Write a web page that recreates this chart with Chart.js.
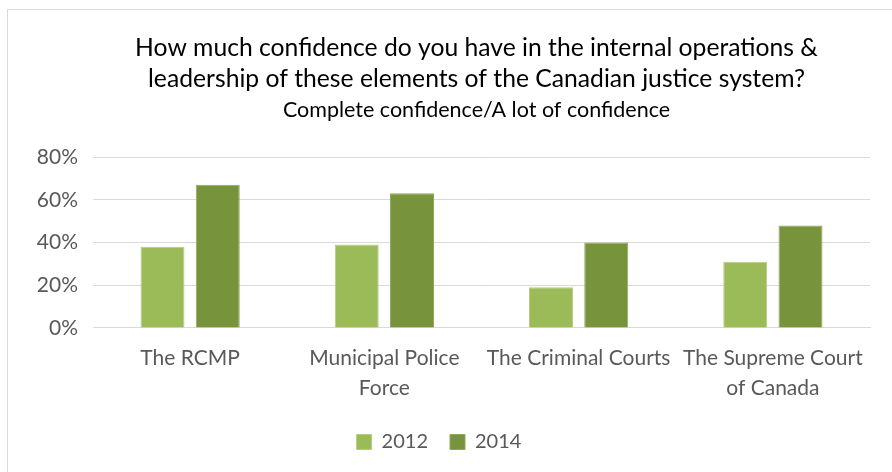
<!DOCTYPE html>
<html>
<head>
<meta charset="utf-8">
<script src="https://cdn.jsdelivr.net/npm/chart.js@4/dist/chart.umd.min.js"></script>
<style>
  html, body { margin: 0; padding: 0; background: #fff; }
  #wrap { position: relative; width: 892px; height: 472px; }
  #frame { position: absolute; left: 7px; top: 9px; width: 900px; height: 480px; border: 1px solid #d9d9d9; box-sizing: border-box; }
  canvas { position: absolute; left: 0; top: 0; }
</style>
</head>
<body>
<div id="wrap">
  <div id="frame"></div>
  <canvas id="chart" width="892" height="472"></canvas>
</div>
<script>
// categorias e valores (percentagem)
const categorias = [
    'The RCMP',
    ['Municipal Police', 'Force'],
    'The Criminal Courts',
    ['The Supreme Court', 'of Canada']
];
const valores2012 = [38, 39, 19, 31];
const valores2014 = [67, 63, 40, 48];
const tituloLinhas = [
    'How much confidence do you have in the internal operations &',
    'leadership of these elements of the Canadian justice system?'
];
const subtitulo = 'Complete confidence/A lot of confidence';

const fonte = "Lato, 'Open Sans', sans-serif";
const cinza = '#595959';

// titulo centrado sobre a area do grafico (como no Excel)
const tituloPlugin = {
    id: 'tituloCentrado',
    afterDraw(chart) {
        const c = chart.ctx;
        const cx = (chart.chartArea.left + chart.chartArea.right) / 2 - 5;
        c.save();
        c.fillStyle = '#000';
        c.textAlign = 'center';
        c.textBaseline = 'alphabetic';
        c.font = '24.7px ' + fonte;
        c.fillText(tituloLinhas[0], cx, 56);
        c.fillText(tituloLinhas[1], cx, 87);
        c.font = '21.5px ' + fonte;
        c.fillText(subtitulo, cx, 117);
        c.restore();
    }
};

const ctx = document.getElementById('chart').getContext('2d');

new Chart(ctx, {
    type: 'bar',
    data: {
        labels: categorias,
        datasets: [
            { label: '2012', data: valores2012, backgroundColor: '#9BBB59', borderColor: '#B5CD82', borderWidth: 1 },
            { label: '2014', data: valores2014, backgroundColor: '#77933C', borderColor: '#8FA85A', borderWidth: 1 }
        ]
    },
    plugins: [tituloPlugin],
    options: {
        responsive: false,
        animation: false,
        layout: { padding: { left: 8, right: 22, top: 157, bottom: 10 } },
        datasets: {
            bar: { categoryPercentage: 0.569, barPercentage: 0.796 }
        },
        plugins: {
            title: { display: false },
            legend: {
                position: 'bottom',
                labels: {
                    color: cinza,
                    boxWidth: 15,
                    boxHeight: 15,
                    padding: 22,
                    font: { family: fonte, size: 20 }
                }
            },
            tooltip: { enabled: false }
        },
        scales: {
            x: {
                grid: { display: false },
                border: { color: '#d9d9d9', width: 1 },
                ticks: {
                    color: cinza,
                    maxRotation: 0,
                    autoSkip: false,
                    padding: 7,
                    font: { family: fonte, size: 21, lineHeight: 1.43 }
                }
            },
            y: {
                min: 0,
                max: 80,
                afterFit: function (scale) { scale.width = 85; },
                border: { display: false },
                grid: { color: '#d9d9d9', lineWidth: 1, drawTicks: false },
                ticks: {
                    stepSize: 20,
                    color: cinza,
                    padding: 15,
                    font: { family: fonte, size: 21 },
                    callback: v => v + '%'
                }
            }
        }
    }
});
</script>
</body>
</html>
